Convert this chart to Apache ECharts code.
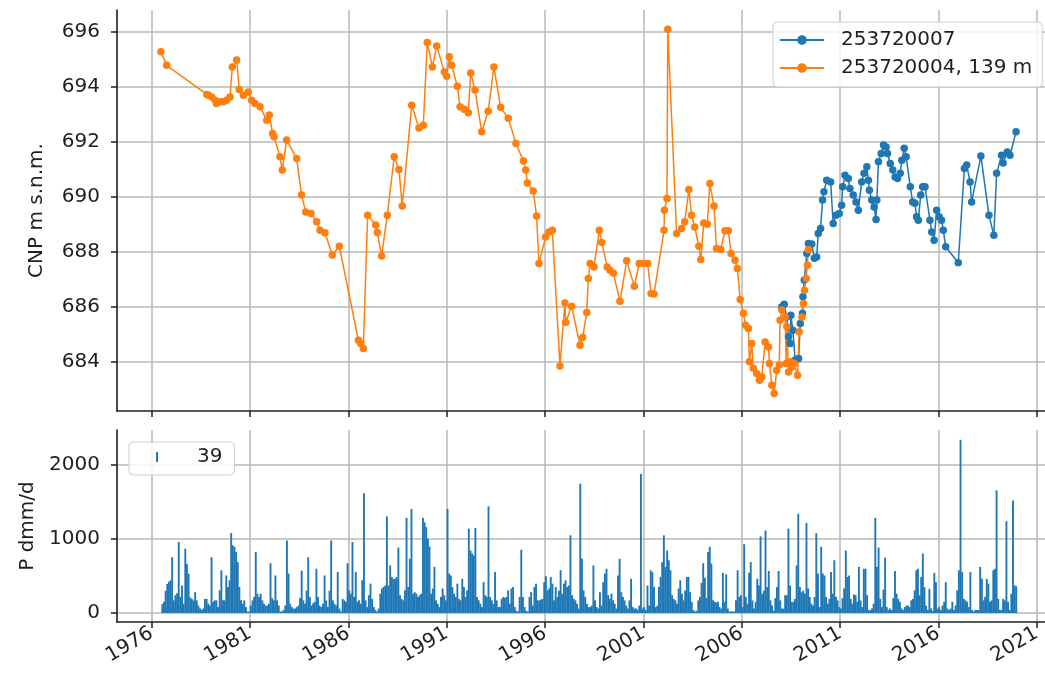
<!DOCTYPE html>
<html>
<head>
<meta charset="utf-8">
<script src="https://cdn.jsdelivr.net/npm/echarts@6/dist/echarts.min.js"></script>
<style>html,body{margin:0;padding:0;background:#fff;}#c{width:1045px;height:685px;}</style>
</head>
<body>
<div id="c"></div>
<script>
// ---- tick labels ----
const yearTicks = [1976, 1981, 1986, 1991, 1996, 2001, 2006, 2011, 2016, 2021];
const levelTicks = [684, 686, 688, 690, 692, 694, 696];
const precipTicks = [0, 1000, 2000];

// ---- series names ----
const nameBlue = '253720007';
const nameOrange = '253720004, 139 m';
const nameBars = '39';

// ---- groundwater level, well 253720004 (decimal year, m a.s.l.) ----
const well253720004 = [
[1976.47,695.26],[1976.76,694.77],[1978.80,693.71],[1978.88,693.68],[1979.05,693.62],[1979.22,693.50],
[1979.30,693.38],[1979.47,693.44],[1979.64,693.44],[1979.81,693.50],[1979.98,693.62],[1980.10,694.71],
[1980.32,694.96],[1980.45,693.89],[1980.66,693.68],[1980.91,693.80],[1981.08,693.50],[1981.25,693.38],
[1981.51,693.26],[1981.85,692.77],[1981.98,692.96],[1982.15,692.29],[1982.22,692.17],[1982.52,691.44],
[1982.64,690.96],[1982.86,692.05],[1983.37,691.38],[1983.62,690.05],[1983.83,689.44],[1984.10,689.38],
[1984.39,689.08],[1984.56,688.77],[1984.81,688.68],[1985.18,687.87],[1985.54,688.19],[1986.51,684.77],
[1986.63,684.65],[1986.76,684.47],[1986.98,689.32],[1987.39,688.96],[1987.47,688.69],[1987.69,687.84],
[1987.98,689.32],[1988.33,691.44],[1988.57,690.98],[1988.74,689.65],[1989.22,693.32],[1989.59,692.49],
[1989.81,692.59],[1990.01,695.60],[1990.27,694.71],[1990.49,695.47],[1990.88,694.53],[1991.00,694.37],
[1991.13,695.08],[1991.25,694.77],[1991.54,694.01],[1991.68,693.26],[1991.89,693.17],[1992.10,693.04],
[1992.22,694.49],[1992.44,693.87],[1992.78,692.35],[1993.11,693.10],[1993.40,694.71],[1993.74,693.24],
[1994.13,692.84],[1994.52,691.93],[1994.90,691.29],[1995.02,690.96],[1995.10,690.49],[1995.40,690.20],
[1995.57,689.29],[1995.69,687.56],[1996.03,688.53],[1996.20,688.71],[1996.37,688.77],[1996.76,683.84],
[1997.01,686.13],[1997.05,685.42],[1997.35,686.01],[1997.78,684.59],[1997.91,684.87],[1998.12,685.78],
[1998.20,687.02],[1998.29,687.56],[1998.49,687.44],[1998.76,688.77],[1998.88,688.33],[1999.16,687.44],
[1999.30,687.32],[1999.47,687.22],[1999.81,686.19],[2000.15,687.66],[2000.54,686.74],[2000.79,687.56],
[2001.00,687.56],[2001.22,687.56],[2001.39,686.47],[2001.54,686.45],[2002.05,688.77],[2002.07,689.50],
[2002.20,689.93],[2002.24,696.08],[2002.69,688.65],[2002.94,688.84],[2003.10,689.08],[2003.31,690.25],
[2003.45,689.32],[2003.61,688.89],[2003.82,688.19],[2003.92,687.71],[2004.07,689.04],[2004.25,688.99],
[2004.38,690.47],[2004.59,689.65],[2004.72,688.11],[2004.93,688.07],[2005.15,688.75],[2005.32,688.75],
[2005.46,687.93],[2005.66,687.68],[2005.78,687.38],[2005.92,686.25],[2006.09,685.75],[2006.20,685.32],
[2006.34,685.20],[2006.39,683.99],[2006.51,684.65],[2006.59,683.75],[2006.76,683.56],[2006.90,683.32],
[2007.02,683.44],[2007.19,684.71],[2007.36,684.53],[2007.41,683.93],[2007.53,683.14],[2007.65,682.84],
[2007.78,683.68],[2007.91,683.87],[2007.95,685.50],[2008.04,685.87],[2008.21,685.62],[2008.26,683.93],
[2008.29,685.26],[2008.38,683.62],[2008.47,683.99],[2008.55,683.80],[2008.67,683.93],[2008.84,683.50],
[2008.92,685.08],[2009.06,685.62],[2009.14,686.11],[2009.19,686.59],[2009.28,687.02],[2009.34,687.50],
[2009.39,688.07]
];

// ---- groundwater level, well 253720007 ----
const well253720007 = [
[2008.04,685.99],[2008.16,686.08],[2008.29,685.62],[2008.38,684.90],[2008.47,684.65],[2008.50,685.68],
[2008.60,685.14],[2008.72,684.05],[2008.89,684.11],[2008.98,685.38],[2009.09,685.75],[2009.11,686.35],
[2009.18,686.96],[2009.31,687.93],[2009.39,688.29],[2009.56,688.27],[2009.69,687.75],[2009.81,687.80],
[2009.89,688.65],[2010.01,688.84],[2010.11,689.87],[2010.18,690.17],[2010.32,690.59],[2010.52,690.53],
[2010.65,689.02],[2010.79,689.32],[2010.96,689.38],[2011.08,689.68],[2011.13,690.35],[2011.25,690.77],
[2011.42,690.65],[2011.50,690.29],[2011.67,690.05],[2011.81,689.80],[2011.93,689.50],[2012.10,690.53],
[2012.22,690.84],[2012.36,691.08],[2012.44,690.59],[2012.49,690.23],[2012.61,689.87],[2012.73,689.62],
[2012.83,689.16],[2012.87,689.87],[2012.95,691.26],[2013.09,691.56],[2013.21,691.87],[2013.34,691.80],
[2013.41,691.56],[2013.55,691.20],[2013.68,690.96],[2013.80,690.71],[2013.92,690.65],[2014.06,690.84],
[2014.14,691.32],[2014.26,691.75],[2014.36,691.44],[2014.57,690.35],[2014.69,689.80],[2014.81,689.75],
[2014.89,689.26],[2014.98,689.14],[2015.10,690.05],[2015.20,690.35],[2015.32,690.35],[2015.57,689.14],
[2015.66,688.71],[2015.78,688.41],[2015.91,689.50],[2016.04,689.26],[2016.16,689.14],[2016.25,688.77],
[2016.37,688.17],[2017.01,687.59],[2017.32,691.02],[2017.44,691.14],[2017.61,690.53],[2017.69,689.80],
[2018.16,691.47],[2018.57,689.32],[2018.82,688.59],[2018.96,690.84],[2019.21,691.50],[2019.29,691.22],
[2019.50,691.62],[2019.64,691.50],[2019.95,692.35]
];

// ---- monthly precipitation (dmm/d), first value = July 1976 ----
const precipStartYear = 1976;
const precipStartMonth = 7;
const precipMonthly = [
/*1976*/ 120,150,300,390,420,440,
/*1977*/ 750,170,240,265,955,215,370,125,865,660,530,210,
/*1978*/ 190,170,280,170,100,60,40,60,190,190,125,100,
/*1979*/ 750,150,170,170,80,305,575,170,170,505,350,440,
/*1980*/ 1075,910,890,820,685,350,170,125,170,80,20,20,
/*1981*/ 100,170,215,820,260,215,260,170,125,100,100,125,
/*1982*/ 670,200,170,505,170,100,20,20,40,100,975,530,
/*1983*/ 125,80,60,60,80,100,200,570,170,125,300,750,
/*1984*/ 215,100,130,150,595,215,100,80,125,505,170,80,
/*1985*/ 300,975,170,125,100,550,60,20,190,170,150,670,
/*1986*/ 305,260,955,215,550,150,170,125,440,1610,170,80,
/*1987*/ 240,395,190,80,40,20,60,260,330,350,370,1300,
/*1988*/ 370,640,485,460,460,485,880,240,190,170,305,1280,
/*1989*/ 350,730,1400,260,280,260,215,240,260,1280,1220,1155,
/*1990*/ 1000,895,260,330,620,170,125,80,215,330,240,170,
/*1991*/ 1400,530,505,350,260,215,395,190,170,460,350,215,
/*1992*/ 305,1135,840,800,775,1145,215,170,125,80,415,240,
/*1993*/ 215,1435,215,170,125,550,170,80,80,190,215,205,
/*1994*/ 215,305,125,330,350,80,30,20,215,850,215,80,
/*1995*/ 30,20,215,280,100,350,395,170,170,180,190,415,
/*1996*/ 495,305,330,485,395,170,350,215,300,575,260,395,
/*1997*/ 440,350,370,1045,240,190,170,125,60,1740,730,305,
/*1998*/ 215,125,80,80,100,640,170,80,60,280,100,415,
/*1999*/ 530,595,240,190,260,170,125,60,505,730,280,215,
/*2000*/ 170,100,60,170,460,80,60,60,40,100,1870,60,
/*2001*/ 80,40,370,100,575,550,350,80,100,350,485,685,
/*2002*/ 1045,620,840,710,575,240,190,170,125,330,440,260,
/*2003*/ 170,300,485,485,280,150,40,20,30,170,215,405,
/*2004*/ 670,475,200,820,890,665,170,150,140,150,80,60,
/*2005*/ 540,150,520,60,20,20,20,20,170,575,215,240,
/*2006*/ 80,925,215,125,540,685,170,60,150,460,370,1030,
/*2007*/ 260,300,1110,350,565,170,100,30,200,350,565,170,
/*2008*/ 60,60,240,240,1135,370,150,150,190,640,1335,350,
/*2009*/ 280,300,260,1210,330,215,125,100,215,1075,530,80,
/*2010*/ 890,530,505,215,125,190,550,260,710,215,170,80,
/*2011*/ 60,200,330,840,485,505,190,125,250,240,150,620,
/*2012*/ 170,80,595,595,240,40,40,60,125,1280,620,880,
/*2013*/ 190,80,315,745,80,40,60,40,200,565,260,190,
/*2014*/ 150,60,40,80,100,100,80,170,190,305,575,595,
/*2015*/ 240,485,800,350,100,40,325,60,30,540,415,60,
/*2016*/ 80,40,100,150,415,60,40,60,150,40,100,305,
/*2017*/ 575,2330,550,190,170,150,80,550,40,20,40,40,
/*2018*/ 40,620,460,170,215,460,395,150,170,575,595,1650,
/*2019*/ 190,40,40,190,170,1235,150,40,260,1515,370,360
];

// ---- axis ranges ----
const xRange = [1974.236, 2021.42];
const levelRange = [682.2, 696.78];
const precipRange = [-121, 2462];

// bar positions: middle of each month
const precipData = precipMonthly.map((v, i) => {
  const m = precipStartMonth - 1 + i;
  return [precipStartYear + Math.floor(m / 12) + ((m % 12) + 0.5) / 12, v];
});

const ink = '#1f1f1f';
const gridCol = '#b9b9b9';
const FONT = 'DejaVu Sans';
const FS = 20;

function xAxisCfg(idx, showLabels) {
  return {
    type: 'value', gridIndex: idx, min: xRange[0], max: xRange[1],
    axisLine: { show: true, onZero: false, lineStyle: { color: ink, width: 1.6 } },
    axisTick: { show: true, inside: false, length: 6, customValues: yearTicks, lineStyle: { color: ink, width: 1.5 } },
    axisLabel: { show: showLabels, customValues: yearTicks, rotate: 30, margin: 10, fontSize: FS, color: ink, fontFamily: FONT,
      formatter: v => String(Math.round(v)) },
    splitLine: { show: true, lineStyle: { color: gridCol, width: 1.5 } }
  };
}
function yAxisCfg(idx, range, ticks, name) {
  return {
    type: 'value', gridIndex: idx, min: range[0], max: range[1],
    name: name, nameLocation: 'middle', nameGap: 70, nameRotate: 90,
    nameTextStyle: { fontSize: FS, color: ink, fontFamily: FONT },
    axisLine: { show: true, onZero: false, lineStyle: { color: ink, width: 1.6 } },
    axisTick: { show: true, inside: false, length: 6, customValues: ticks, lineStyle: { color: ink, width: 1.5 } },
    axisLabel: { show: true, customValues: ticks, margin: 17, fontSize: FS, color: ink, fontFamily: FONT,
      formatter: v => String(Math.round(v)) },
    splitLine: { show: true, lineStyle: { color: gridCol, width: 1.5 } }
  };
}

const chart = echarts.init(document.getElementById('c'), null, { renderer: 'canvas' });
chart.setOption({
  animation: false,
  backgroundColor: '#fff',
  textStyle: { fontFamily: FONT },
  grid: [
    { left: 117, top: 10, width: 928, height: 401, containLabel: false },
    { left: 117, top: 430, width: 928, height: 192, containLabel: false }
  ],
  xAxis: [xAxisCfg(0, false), xAxisCfg(1, true)],
  yAxis: [
    yAxisCfg(0, levelRange, levelTicks, 'CNP m s.n.m.'),
    yAxisCfg(1, precipRange, precipTicks, 'P dmm/d')
  ],
  legend: [
    {
      data: [nameBlue, nameOrange], orient: 'vertical', left: 773, top: 22,
      itemWidth: 44, itemHeight: 12, itemGap: 8, padding: [8, 10, 9, 6],
      backgroundColor: 'rgba(255,255,255,0.85)', borderColor: '#d0d0d0', borderWidth: 1, borderRadius: 4,
      textStyle: { fontSize: FS, color: ink, fontFamily: FONT, padding: [0, 0, 0, 12] }
    },
    {
      data: [nameBars], orient: 'vertical', left: 129, top: 442, icon: 'rect',
      itemWidth: 2, itemHeight: 10, padding: [5, 12, 8, 27],
      backgroundColor: 'rgba(255,255,255,0.85)', borderColor: '#d0d0d0', borderWidth: 1, borderRadius: 4,
      textStyle: { fontSize: FS, color: ink, fontFamily: FONT, padding: [0, 0, 0, 34] }
    }
  ],
  series: [
    {
      name: nameBlue, type: 'line', xAxisIndex: 0, yAxisIndex: 0, data: well253720007,
      symbol: 'circle', symbolSize: 7.5, showSymbol: true, showAllSymbol: true,
      lineStyle: { color: '#1f77b4', width: 1.5 }, itemStyle: { color: '#1f77b4' }
    },
    {
      name: nameOrange, type: 'line', xAxisIndex: 0, yAxisIndex: 0, data: well253720004,
      symbol: 'circle', symbolSize: 7.5, showSymbol: true, showAllSymbol: true,
      lineStyle: { color: '#ff7f0e', width: 1.5 }, itemStyle: { color: '#ff7f0e' }
    },
    {
      name: nameBars, type: 'bar', xAxisIndex: 1, yAxisIndex: 1, data: precipData,
      barWidth: 1.9, itemStyle: { color: '#1f77b4' }
    }
  ]
});
</script>
</body>
</html>
